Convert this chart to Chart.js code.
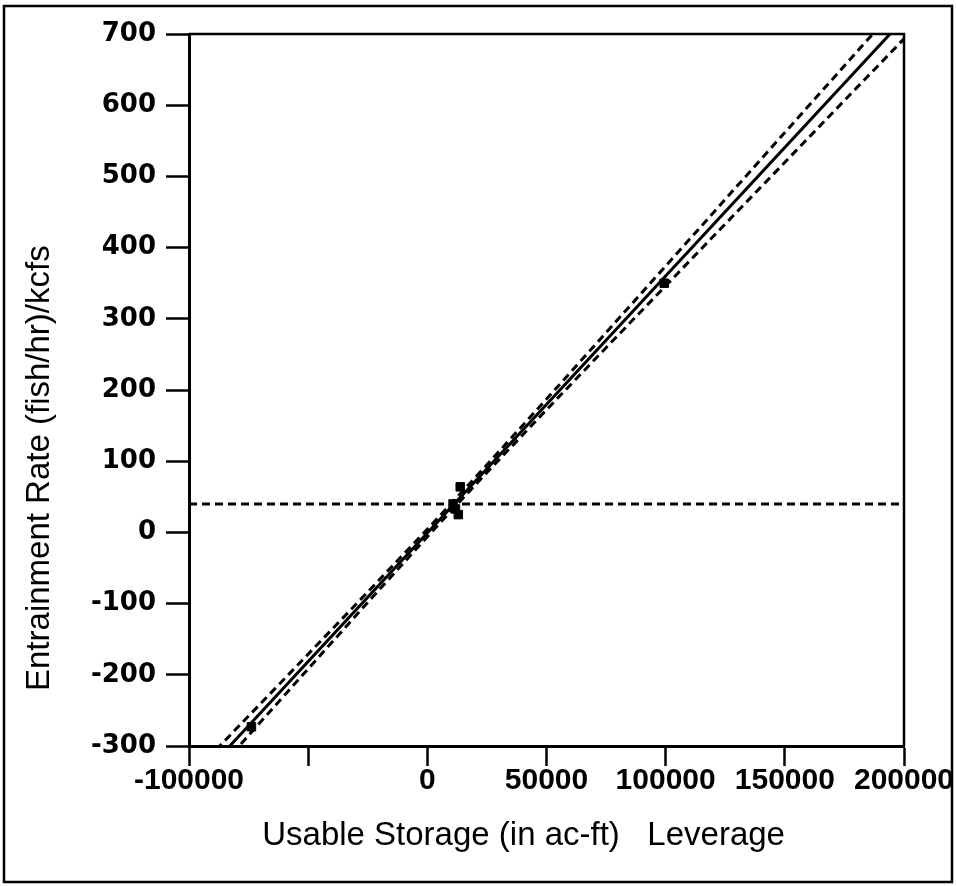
<!DOCTYPE html>
<html>
<head>
<meta charset="utf-8">
<script src="https://cdn.jsdelivr.net/npm/chart.js@4.4.0/dist/chart.umd.min.js"></script>
<style>
html,body{margin:0;padding:0;background:#fff;}
#wrap{position:relative;width:956px;height:886px;}
</style>
</head>
<body>
<div id="wrap"><canvas id="c" width="956" height="886"></canvas></div>
<script>
// ---- data ----
const xTickValues = [-100000, -50000, 0, 50000, 100000, 150000, 200000];
const xTickLabels = ['-100000', '', '0', '50000', '100000', '150000', '200000'];
const yTickValues = [-300, -200, -100, 0, 100, 200, 300, 400, 500, 600, 700];

// leverage residual points
const pointX = [-73800, 10800, 11800, 13000, 13800, 99400];
const pointY = [-273, 40, 33, 25, 64, 350];

// fitted line (solid)
const fitX = [-100000, 200000];
const fitY = [-361.8, 721.2];

// confidence curves (dashed)
const bandX     = [-100000, -75000, -50000, -25000, 0, 11300, 25000, 50000, 75000, 100000, 125000, 150000, 175000, 200000];
const bandUpper = [-344.8, -257.9, -171.0, -83.7, 4.5, 45, 94.9, 187.2, 280.6, 374.1, 467.8, 561.6, 655.4, 749.2];
const bandLower = [-378.8, -285.1, -191.6, -98.3, -6.1, 35, 84.1, 172.2, 259.4, 346.3, 433.2, 519.8, 606.6, 693.2];

// horizontal mean line (dashed)
const meanX = [-100000, 200000];
const meanY = [40, 40];

const xTitle = 'Usable Storage (in ac-ft)   Leverage     ';
const yTitle = '      Entrainment Rate (fish/hr)/kcfs';

// ---- build datasets ----
const zip = (xs, ys) => xs.map((x, i) => ({x: x, y: ys[i]}));

const frame = {
  id: 'frame',
  beforeDraw(chart) {
    const ctx = chart.ctx;
    ctx.save();
    ctx.fillStyle = '#fff';
    ctx.fillRect(0, 0, chart.width, chart.height);
    ctx.strokeStyle = '#000';
    ctx.lineWidth = 2.5;
    ctx.strokeRect(4, 6, chart.width - 8, chart.height - 10);
    ctx.restore();
  },
  afterDraw(chart) {
    const a = chart.chartArea, ctx = chart.ctx;
    ctx.save();
    ctx.strokeStyle = '#000';
    ctx.lineWidth = 2.5;
    ctx.beginPath();
    ctx.moveTo(a.left, a.top);
    ctx.lineTo(a.right, a.top);
    ctx.lineTo(a.right, a.bottom);
    ctx.stroke();
    ctx.restore();
  }
};

const dashStyle = {borderColor: '#000', borderWidth: 3, borderDash: [8, 5], pointRadius: 0, showLine: true, fill: false};

new Chart(document.getElementById('c'), {
  type: 'scatter',
  data: {
    datasets: [
      Object.assign({label: 'mean', data: zip(meanX, meanY)}, dashStyle),
      Object.assign({label: 'upper', data: zip(bandX, bandUpper)}, dashStyle),
      Object.assign({label: 'lower', data: zip(bandX, bandLower)}, dashStyle),
      {label: 'fit', data: zip(fitX, fitY), showLine: true, borderColor: '#000', borderWidth: 3, pointRadius: 0, fill: false},
      {label: 'points', data: zip(pointX, pointY), showLine: false, pointStyle: 'rect', pointRadius: 6, backgroundColor: '#000', borderColor: '#000', borderWidth: 1}
    ]
  },
  options: {
    responsive: false,
    animation: false,
    devicePixelRatio: 1,
    layout: {padding: {left: 8, top: 34, right: 52, bottom: 8}},
    plugins: {legend: {display: false}, tooltip: {enabled: false}},
    scales: {
      x: {
        type: 'linear',
        min: -100000, max: 200000,
        afterBuildTicks(scale) { scale.ticks = xTickValues.map(v => ({value: v})); },
        afterFit(scale) { scale.height = 132; },
        ticks: {
          autoSkip: false, maxRotation: 0, padding: 0, color: '#000',
          font: {family: 'Liberation Sans, Arial, sans-serif', size: 30, weight: 'bold', lineHeight: 1},
          callback(v) { const i = xTickValues.indexOf(v); return i >= 0 ? xTickLabels[i] : ''; }
        },
        grid: {drawOnChartArea: false, drawTicks: true, tickLength: 20, tickColor: '#000', tickWidth: 2.5},
        border: {display: true, color: '#000', width: 3},
        title: {display: true, text: xTitle, color: '#000', padding: {top: 0, bottom: 22},
          font: {family: 'Liberation Sans, Arial, sans-serif', size: 33}}
      },
      y: {
        type: 'linear',
        min: -300, max: 700,
        afterBuildTicks(scale) { scale.ticks = yTickValues.map(v => ({value: v})); },
        afterFit(scale) { scale.width = 181; },
        ticks: {
          padding: 10, color: '#000',
          font: {family: 'DejaVu Sans', size: 26, weight: 'bold'},
          callback(v) { return String(v); }
        },
        grid: {drawOnChartArea: false, drawTicks: true, tickLength: 23, tickColor: '#000', tickWidth: 2.5},
        border: {display: true, color: '#000', width: 3},
        title: {display: true, text: yTitle, color: '#000', align: 'start', padding: {top: 12, bottom: 0},
          font: {family: 'Liberation Sans, Arial, sans-serif', size: 33}}
      }
    }
  },
  plugins: [frame]
});
</script>
</body>
</html>
